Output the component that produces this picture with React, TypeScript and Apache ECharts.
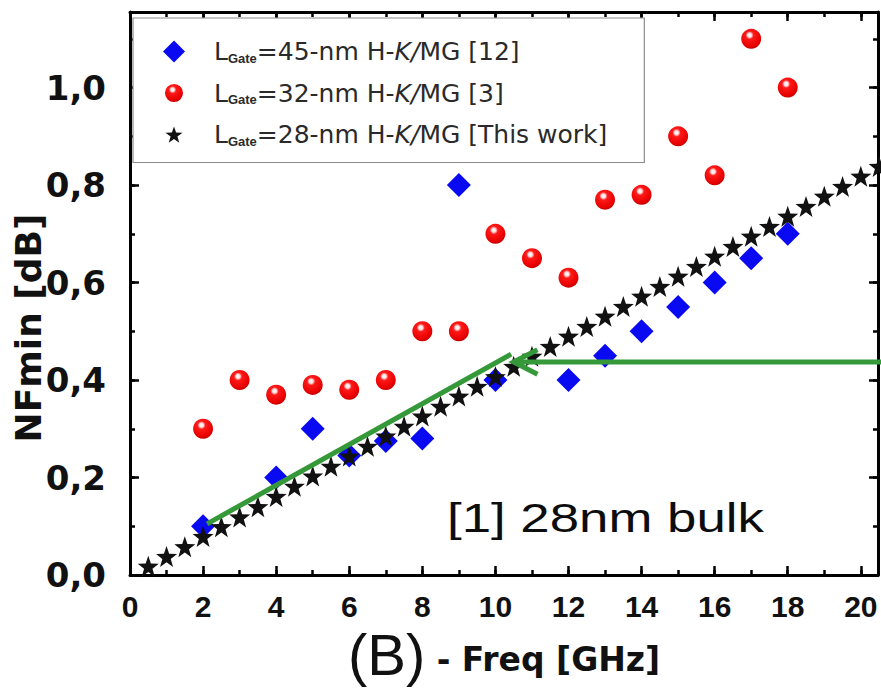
import React, { useEffect, useRef } from 'react';
import * as echarts from 'echarts';

// ---- data ----
const FREQ_45 = [2, 4, 5, 6, 7, 8, 9, 10, 12, 13, 14, 15, 16, 17, 18];
const NF_45 = [0.10, 0.20, 0.30, 0.245, 0.275, 0.28, 0.80, 0.40, 0.40, 0.45, 0.50, 0.55, 0.60, 0.65, 0.70];

const FREQ_32 = [2, 3, 4, 5, 6, 7, 8, 9, 10, 11, 12, 13, 14, 15, 16, 17, 18];
const NF_32 = [0.30, 0.40, 0.37, 0.39, 0.38, 0.40, 0.50, 0.50, 0.70, 0.65, 0.61, 0.77, 0.78, 0.90, 0.82, 1.10, 1.00];

const FREQ_28 = [
  0.5, 1, 1.5, 2, 2.5, 3, 3.5, 4, 4.5, 5, 5.5, 6, 6.5, 7, 7.5, 8, 8.5, 9, 9.5, 10,
  10.5, 11, 11.5, 12, 12.5, 13, 13.5, 14, 14.5, 15, 15.5, 16, 16.5, 17, 17.5, 18, 18.5, 19, 19.5, 20, 20.5,
];
const NF_28 = [
  0.018, 0.038, 0.058, 0.079, 0.099, 0.119, 0.140, 0.161, 0.182, 0.203, 0.223, 0.244, 0.264, 0.285, 0.305,
  0.326, 0.346, 0.367, 0.387, 0.407, 0.428, 0.449, 0.469, 0.490, 0.510, 0.531, 0.551, 0.572, 0.592, 0.613,
  0.633, 0.654, 0.674, 0.695, 0.715, 0.736, 0.756, 0.777, 0.797, 0.818, 0.838,
];

const SERIES_NAMES = [
  'LGate=45-nm H-K/MG [12]',
  'LGate=32-nm H-K/MG [3]',
  'LGate=28-nm H-K/MG [This work]',
];
const LEGEND_RICH = [
  '{m|L}{s|Gate}{m|=45-nm H-}{k|K/}{m|MG [12]}',
  '{m|L}{s|Gate}{m|=32-nm H-}{k|K/}{m|MG [3]}',
  '{m|L}{s|Gate}{m|=28-nm H-}{k|K/}{m|MG [This work]}',
];

const X_LABEL_NAME = '{b|(B)}{f| - Freq [GHz]}';
const Y_LABEL_NAME = 'NFmin [dB]';
const ANNOTATION = '[1] 28nm bulk';

// green annotation arrows (data coordinates)
const BULK_LINE_X = [2.11, 10.43];
const BULK_LINE_Y = [0.105, 0.453];
const ARROW_X = [10.5, 20.7];
const ARROW_Y = [0.437, 0.437];
const ARROW_HEAD_X = [11.15, 10.5, 11.15];
const ARROW_HEAD_Y = [0.462, 0.437, 0.412];

const XMAX = 20.47;
const YMAX = 1.155;

const GREEN = '#35993a';
const STAR_PATH =
  'path://M0,-10L2.35,-3.24L9.51,-3.09L3.8,1.24L5.88,8.09L0,4L-5.88,8.09L-3.8,1.24L-9.51,-3.09L-2.35,-3.24Z';
const STAR_ICON =
  'path://M-12.3,-13.3M12.3,11.3M0,-10L2.35,-3.24L9.51,-3.09L3.8,1.24L5.88,8.09L0,4L-5.88,8.09L-3.8,1.24L-9.51,-3.09L-2.35,-3.24Z';
const DIAMOND_ICON = 'path://M0,-12L12,0L0,12L-12,0Z';
const CIRCLE_ICON = 'path://M-12.2,-12.2M12.2,12.2M-10,0A10,10 0 1,1 10,0A10,10 0 1,1 -10,0Z';

const sphereColor = {
  type: 'radial',
  x: 0.42,
  y: 0.32,
  r: 0.72,
  colorStops: [
    { offset: 0, color: '#ffffff' },
    { offset: 0.14, color: '#ffe0e0' },
    { offset: 0.28, color: '#ff1a1a' },
    { offset: 0.8, color: '#e60000' },
    { offset: 1, color: '#b80000' },
  ],
};

const pairs = (xs: number[], ys: number[]) => xs.map((x, i) => [x, ys[i]]);

function xAxisDef(position: 'top' | 'bottom', interval: number, len: number, main: boolean, labels: boolean) {
  return {
    type: 'value',
    position,
    min: 0,
    max: XMAX,
    interval,
    splitLine: { show: false },
    axisLine: { show: main, onZero: false, lineStyle: { color: '#000', width: 3 } },
    axisTick: { show: true, inside: true, length: len, lineStyle: { color: '#000', width: 2.5 } },
    axisLabel: labels
      ? {
          show: true,
          showMaxLabel: false,
          margin: 16,
          color: '#111',
          fontFamily: 'Liberation Sans',
          fontWeight: 'bold',
          fontSize: 30,
          formatter: (v: number) => String(v),
        }
      : { show: false },
  } as any;
}

function yAxisDef(position: 'left' | 'right', interval: number, len: number, main: boolean, labels: boolean) {
  return {
    type: 'value',
    position,
    min: 0,
    max: YMAX,
    interval,
    splitLine: { show: false },
    axisLine: { show: main, onZero: false, lineStyle: { color: '#000', width: 3 } },
    axisTick: { show: true, inside: true, length: len, lineStyle: { color: '#000', width: 2.5 } },
    axisLabel: labels
      ? {
          show: true,
          showMaxLabel: false,
          margin: 24,
          color: '#111',
          fontFamily: 'DejaVu Sans',
          fontWeight: 'bold',
          fontSize: 34,
          formatter: (v: number) => v.toFixed(1).replace('.', ','),
        }
      : { show: false },
  } as any;
}

export default function App() {
  const ref = useRef<HTMLDivElement>(null);

  useEffect(() => {
    if (!ref.current) return;
    const chart = echarts.init(ref.current, null, { renderer: 'svg' });

    const xMain = xAxisDef('bottom', 2, 9, true, true);
    xMain.name = X_LABEL_NAME;
    xMain.nameLocation = 'middle';
    xMain.nameGap = 50;
    xMain.nameMoveOverlap = false;
    xMain.nameTextStyle = {
      rich: {
        b: { fontFamily: 'Liberation Sans', fontSize: 58, color: '#111' },
        f: { fontFamily: 'DejaVu Sans', fontWeight: 'bold', fontSize: 33, color: '#111', padding: [10, 0, 0, 0] },
      },
    };

    const yMain = yAxisDef('left', 0.2, 9, true, true);
    yMain.name = Y_LABEL_NAME;
    yMain.nameLocation = 'middle';
    yMain.nameRotate = 90;
    yMain.nameGap = 84;
    yMain.nameMoveOverlap = false;
    yMain.nameTextStyle = {
      fontFamily: 'DejaVu Sans',
      fontWeight: 'bold',
      fontSize: 36,
      color: '#111',
      padding: [0, 69, 0, 0],
    };

    const option: any = {
      animation: false,
      backgroundColor: '#fff',
      grid: { left: 130, right: 3, top: 12, bottom: 118, containLabel: false, outerBoundsMode: 'none' },
      xAxis: [
        xMain,
        xAxisDef('bottom', 1, 5, false, false),
        xAxisDef('top', 2, 9, true, false),
        xAxisDef('top', 1, 5, false, false),
      ],
      yAxis: [
        yMain,
        yAxisDef('left', 0.1, 5, false, false),
        yAxisDef('right', 0.2, 9, true, false),
        yAxisDef('right', 0.1, 5, false, false),
      ],
      legend: {
        orient: 'vertical',
        left: 133,
        top: 18,
        padding: [21, 37, 15, 30],
        itemWidth: 70,
        itemHeight: 22,
        itemGap: 16,
        backgroundColor: '#fff',
        borderColor: '#8c8c8c',
        borderWidth: 1.2,
        borderRadius: 0,
        selectedMode: false,
        data: [
          { name: SERIES_NAMES[0], icon: DIAMOND_ICON },
          { name: SERIES_NAMES[1], icon: CIRCLE_ICON },
          { name: SERIES_NAMES[2], icon: STAR_ICON },
        ],
        formatter: (name: string) => LEGEND_RICH[SERIES_NAMES.indexOf(name)],
        textStyle: {
          color: '#2a2a2a',
          rich: {
            m: { fontFamily: 'DejaVu Sans', fontSize: 25, color: '#2a2a2a', lineHeight: 28 },
            k: { fontFamily: 'DejaVu Sans', fontSize: 25, fontStyle: 'italic', color: '#2a2a2a', lineHeight: 28 },
            s: { fontFamily: 'Liberation Sans', fontSize: 13, fontWeight: 'bold', color: '#2a2a2a', padding: [13, 0, 0, 0] },
          },
        },
      },
      graphic: [
        {
          type: 'text',
          x: 447,
          y: 518,
          scaleX: 1.32,
          z: 100,
          style: {
            text: ANNOTATION,
            fontFamily: 'Liberation Sans',
            fontSize: 40,
            fill: '#0d0d0d',
            align: 'left',
            verticalAlign: 'middle',
          },
        },
      ],
      series: [
        {
          type: 'scatter',
          name: SERIES_NAMES[0],
          data: pairs(FREQ_45, NF_45),
          symbol: 'diamond',
          symbolSize: 24,
          itemStyle: { color: '#0a0af2', opacity: 1 },
          z: 2,
        },
        {
          type: 'scatter',
          name: SERIES_NAMES[1],
          data: pairs(FREQ_32, NF_32),
          symbol: 'circle',
          symbolSize: 20,
          itemStyle: { color: sphereColor, opacity: 1 },
          z: 2,
        },
        {
          type: 'scatter',
          name: SERIES_NAMES[2],
          data: pairs(FREQ_28, NF_28),
          symbol: STAR_PATH,
          symbolSize: 21,
          clip: false,
          itemStyle: { color: '#111', opacity: 1 },
          z: 3,
        },
        {
          type: 'line',
          name: 'bulk-trend',
          data: pairs(BULK_LINE_X, BULK_LINE_Y),
          symbol: 'none',
          clip: false,
          silent: true,
          lineStyle: { color: GREEN, width: 5 },
          z: 4,
        },
        {
          type: 'line',
          name: 'bulk-arrow',
          data: pairs(ARROW_X, ARROW_Y),
          symbol: 'none',
          clip: false,
          silent: true,
          lineStyle: { color: GREEN, width: 5 },
          z: 4,
        },
        {
          type: 'line',
          name: 'bulk-arrow-head',
          data: pairs(ARROW_HEAD_X, ARROW_HEAD_Y),
          symbol: 'none',
          clip: false,
          silent: true,
          lineStyle: { color: GREEN, width: 5, join: 'miter' },
          z: 4,
        },
      ],
    };

    chart.setOption(option);
    return () => chart.dispose();
  }, []);

  return (
    <div
      ref={ref}
      style={{ position: 'fixed', left: 0, top: 0, width: 881, height: 693, background: '#fff' }}
    />
  );
}
